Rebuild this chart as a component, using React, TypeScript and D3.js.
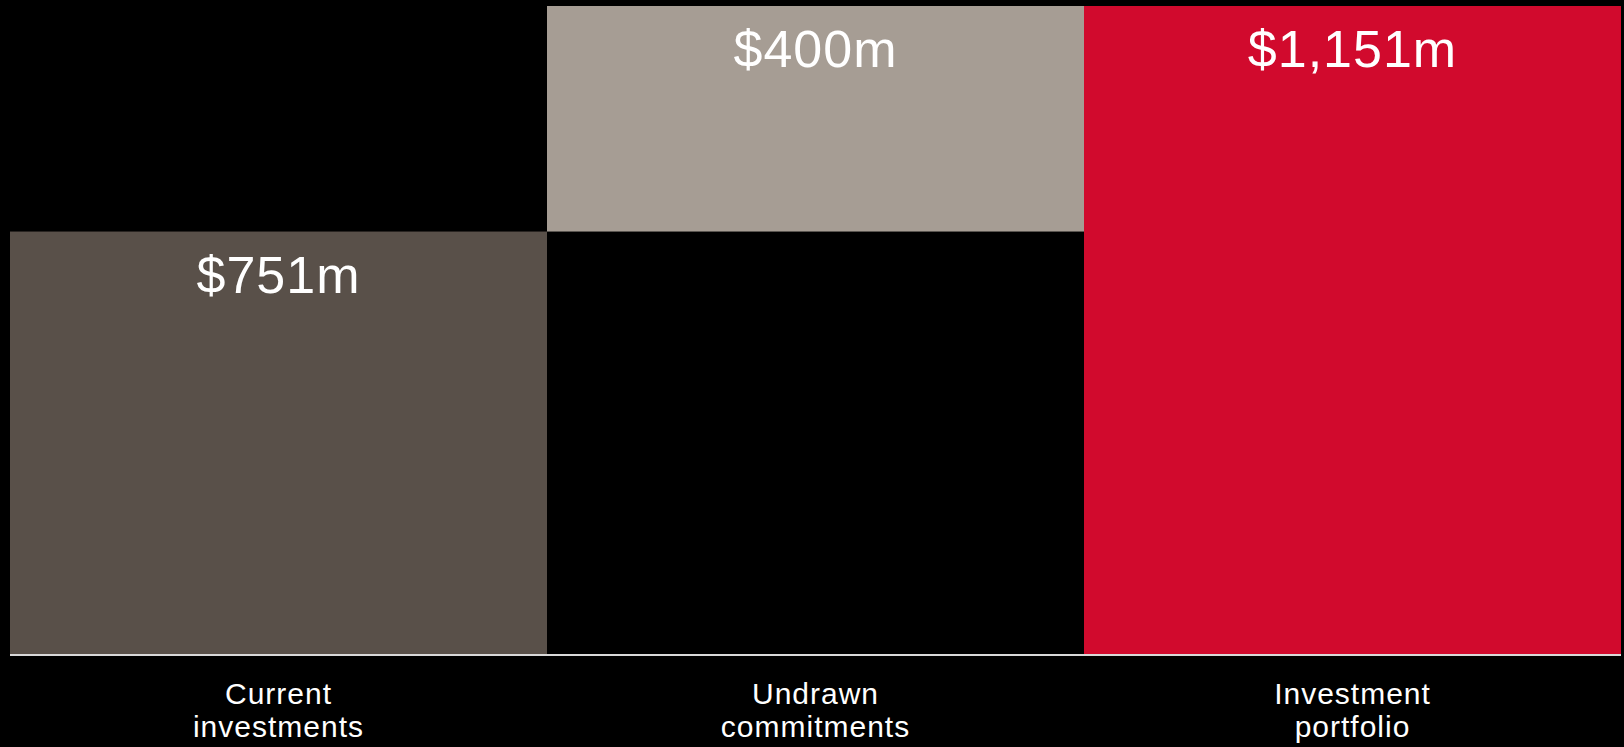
import * as d3 from 'd3'

const categories = ['Current investments', 'Undrawn commitments', 'Investment portfolio']
const labelLines = [['Current', 'investments'], ['Undrawn', 'commitments'], ['Investment', 'portfolio']]
const starts = [0, 751, 0]
const ends = [751, 1151, 1151]
const valueLabels = ['$751m', '$400m', '$1,151m']
const colors = ['#595049', '#a69d94', '#d10a2d']

const W = 1624
const H = 747

export default function App() {
  const x = d3.scaleBand<string>().domain(categories).range([10, 1621]).padding(0)
  const y = d3.scaleLinear().domain([0, 1151]).range([655, 6])
  const font = '"Liberation Sans", Arial, sans-serif'

  return (
    <div style={{ position: 'absolute', left: 0, top: 0, width: W, height: H, background: '#000' }}>
      <svg width={W} height={H} style={{ display: 'block' }}>
        <rect width={W} height={H} fill="#000" />
        {categories.map((c, i) => (
          <rect
            key={c}
            x={x(c)}
            y={y(ends[i])}
            width={x.bandwidth()}
            height={y(starts[i]) - y(ends[i])}
            fill={colors[i]}
          />
        ))}
        <line x1={10} x2={1621} y1={y(0)} y2={y(0)} stroke="#d9d9d9" strokeWidth={2} />
        {categories.map((c, i) => (
          <text
            key={c + '-v'}
            x={(x(c) ?? 0) + x.bandwidth() / 2}
            y={y(ends[i]) + 61}
            textAnchor="middle"
            fill="#fff"
            fontFamily={font}
            fontSize={52}
            letterSpacing={1}
          >
            {valueLabels[i]}
          </text>
        ))}
        {categories.map((c, i) => (
          <text
            key={c + '-l'}
            x={(x(c) ?? 0) + x.bandwidth() / 2}
            textAnchor="middle"
            fill="#fff"
            fontFamily={font}
            fontSize={30}
            letterSpacing={1}
          >
            {labelLines[i].map((line, j) => (
              <tspan key={j} x={(x(c) ?? 0) + x.bandwidth() / 2} y={704 + j * 33}>
                {line}
              </tspan>
            ))}
          </text>
        ))}
      </svg>
    </div>
  )
}
